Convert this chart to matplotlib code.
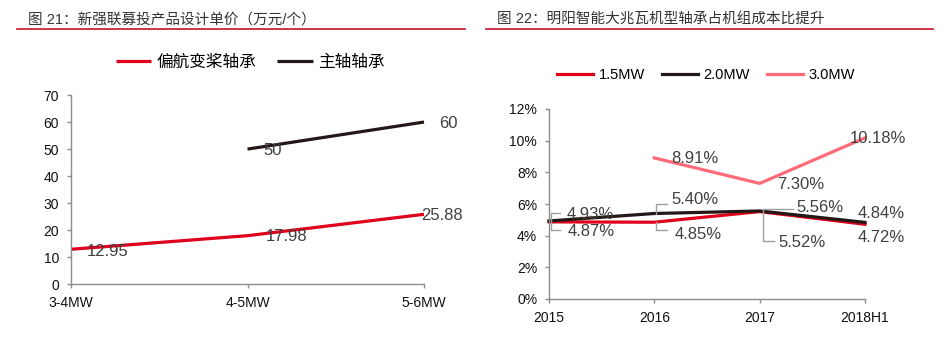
import matplotlib
matplotlib.use("Agg")
import matplotlib.pyplot as plt
from matplotlib.lines import Line2D
from matplotlib.ticker import FuncFormatter

plt.rcParams['font.family'] = ['Liberation Sans', 'Noto Sans CJK SC', 'DejaVu Sans']

# ---- data: chart 21 ----
sizes = ["3-4MW", "4-5MW", "5-6MW"]
pitch_yaw_price = [12.95, 17.98, 25.88]
main_shaft_price = [None, 50, 60]

# ---- data: chart 22 ----
years = ["2015", "2016", "2017", "2018H1"]
share_15mw = [4.87, 4.85, 5.52, 4.72]
share_20mw = [4.93, 5.40, 5.56, 4.84]
share_30mw = [None, 8.91, 7.30, 10.18]

RED = "#E0001B"
DARK = "#231815"
PINK = "#FF6B78"
TXT = "#404040"
GRID = "#8C8C8C"
LEAD = "#A0A0A0"

W, H = 946, 344
fig = plt.figure(figsize=(W / 100, H / 100), dpi=100)


def px2pt(v):
    return v * 72 / 100


def frac_box(x0, y0, x1, y1):
    return [x0 / W, 1 - y1 / H, (x1 - x0) / W, (y1 - y0) / H]


def style_axes(ax):
    for s in ("top", "right"):
        ax.spines[s].set_visible(False)
    for s in ("left", "bottom"):
        ax.spines[s].set_color(GRID)
        ax.spines[s].set_linewidth(1.0)
    ax.tick_params(axis="both", direction="out", length=3, width=1.0,
                   color=GRID, labelsize=10, labelcolor="#111111", pad=5.5)


def header(x_text, x0, x1, text):
    fig.text(x_text / W, 1 - 20 / H, text, fontsize=10.5, color="#333333",
             ha="left", va="center")
    fig.add_artist(Line2D([x0 / W, x1 / W], [1 - 28.5 / H, 1 - 28.5 / H],
                          color="#C8102E", lw=1.2))


def label(ax, x, y, text, dx, dy, ha="left"):
    ax.annotate(text, (x, y), xytext=(px2pt(dx), -px2pt(dy)),
                textcoords="offset points", ha=ha, va="center",
                fontsize=12, color=TXT, annotation_clip=False)


# ================= chart 21 =================
header(28, 17, 465, "图 21：新强联募投产品设计单价（万元/个）")
ax1 = fig.add_axes(frac_box(71, 95, 424, 284.3))
style_axes(ax1)
xi = list(range(len(sizes)))
ax1.plot(xi, pitch_yaw_price, color=RED, lw=2.3, solid_capstyle="butt",
         label="偏航变桨轴承", clip_on=False)
mx = [i for i, v in zip(xi, main_shaft_price) if v is not None]
my = [v for v in main_shaft_price if v is not None]
ax1.plot(mx, my, color=DARK, lw=2.3, solid_capstyle="butt",
         label="主轴轴承", clip_on=False)
ax1.set_xlim(0, 2)
ax1.set_ylim(0, 70)
ax1.set_yticks(range(0, 71, 10))
ax1.set_xticks(xi)
ax1.set_xticklabels(sizes)

offs1 = [(16, 2), (18, 1), (-3, 1)]
for i, (v, (dx, dy)) in enumerate(zip(pitch_yaw_price, offs1)):
    label(ax1, i, v, f"{v:.2f}", dx, dy)
offs_main = {1: (16, 1), 2: (15, 1)}
for i, v in enumerate(main_shaft_price):
    if v is not None:
        label(ax1, i, v, f"{v:g}", *offs_main[i])

fig.legend(handles=ax1.get_lines(), loc="center",
           bbox_to_anchor=(250 / W, 1 - 62 / H), ncol=2, frameon=False,
           fontsize=12, handlelength=2.15, handletextpad=0.3,
           columnspacing=1.25, borderpad=0, borderaxespad=0)

# ================= chart 22 =================
header(497, 486, 933, "图 22：明阳智能大兆瓦机型轴承占机组成本比提升")
ax2 = fig.add_axes(frac_box(549, 109, 865, 299))
style_axes(ax2)
yi = list(range(len(years)))
ax2.plot(yi, share_15mw, color=RED, lw=2.3, label="1.5MW", clip_on=False)
ax2.plot(yi, share_20mw, color=DARK, lw=2.3, label="2.0MW", clip_on=False)
px3 = [i for i, v in zip(yi, share_30mw) if v is not None]
py3 = [v for v in share_30mw if v is not None]
ax2.plot(px3, py3, color=PINK, lw=2.3, label="3.0MW", clip_on=False)
ax2.set_xlim(0, 3)
ax2.set_ylim(0, 12)
ax2.set_yticks(range(0, 13, 2))
ax2.yaxis.set_major_formatter(FuncFormatter(lambda v, _: f"{v:.0f}%"))
ax2.set_xticks(yi)
ax2.set_xticklabels(years)

# pixel scale of the right axes (for leader-line offsets)
sx = 3 / 316
sy = 12 / 190


def leader(ax, x, y, pts):
    xs = [x + dx * sx for dx, dy in pts]
    ys = [y - dy * sy for dx, dy in pts]
    ax.plot(xs, ys, color=LEAD, lw=1.0, clip_on=False)


# 2.0MW labels
lab20 = [((18, -6), [(2, 0), (2, -8), (11, -8)]),
         ((17, -14.5), [(2, 0), (2, -10), (13, -10)]),
         ((37, -3), [(3, 0), (3, -2), (33, -2)]),
         ((-7, -9), None)]
for i, (v, (off, path)) in enumerate(zip(share_20mw, lab20)):
    if path:
        leader(ax2, i, v, path)
    label(ax2, i, v, f"{v:.2f}%", *off)

# 1.5MW labels
lab15 = [((19, 10), [(2, 0), (2, 8), (11, 8)]),
         ((20, 12), [(2, 0), (2, 8), (13, 8)]),
         ((19, 31), [(3, 0), (3, 29), (14, 29)]),
         ((-7, 13), None)]
for i, (v, (off, path)) in enumerate(zip(share_15mw, lab15)):
    if path:
        leader(ax2, i, v, path)
    label(ax2, i, v, f"{v:.2f}%", *off)

# 3.0MW labels
lab30 = {1: (17, 1), 2: (17, 1), 3: (-15, 1)}
for i, v in enumerate(share_30mw):
    if v is not None:
        label(ax2, i, v, f"{v:.2f}%", *lab30[i])

fig.legend(handles=ax2.get_lines()[:3], loc="center",
           bbox_to_anchor=(706 / W, 1 - 75 / H), ncol=3, frameon=False,
           fontsize=10.5, handlelength=2.47, handletextpad=0.35,
           columnspacing=1.2, borderpad=0, borderaxespad=0)

fig.savefig("out.png", dpi=100)
